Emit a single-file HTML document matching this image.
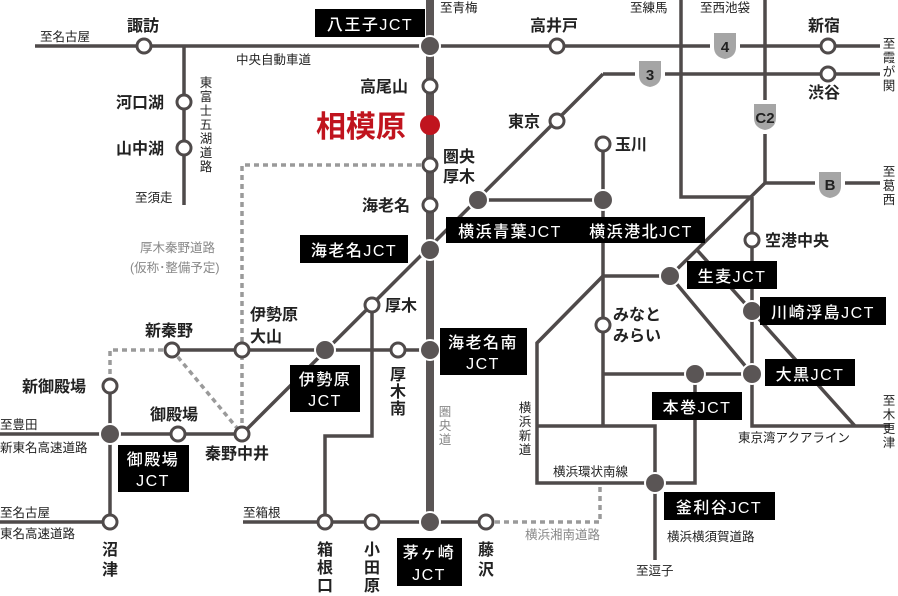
<!DOCTYPE html>
<html><head><meta charset="utf-8"><style>
html,body{margin:0;padding:0;background:#fff;}
svg{display:block;font-family:"Liberation Sans","Noto Sans CJK JP",sans-serif;}
.l{fill:none;stroke:#4f4a4a;stroke-width:3.5;}
.d{fill:none;stroke:#9a9a9a;stroke-width:3.5;stroke-dasharray:5 4;}
.o{fill:#fff;stroke:#4f4a4a;stroke-width:3;}
.j{fill:#5a5555;stroke:#fff;stroke-width:2;}
.t{font-size:16px;font-weight:bold;fill:#222;}
.s{font-size:12.5px;fill:#222;}
.g{font-size:12.5px;fill:#888;}
.w{font-size:16px;fill:#fff;font-weight:500;letter-spacing:1.5px;}
.sh{fill:#a5a5a5;}
.sht{font-size:15px;font-weight:bold;fill:#222;}
</style></head><body>
<svg width="898" height="596" viewBox="0 0 898 596">
<path class="d" d="M430,165 H242 V434"/>
<path class="d" d="M172,350 H110 V386"/>
<path class="d" d="M172,350 L242,434"/>
<path class="d" d="M486,522 H600 V483"/>
<path class="l" d="M35,46 H880"/>
<path class="l" d="M184,46 V205"/>
<path class="l" d="M603,74 H880"/>
<path class="l" d="M242,434 L603,74"/>
<path class="l" d="M478,200 H603 V426"/>
<path class="l" d="M603,144 V200"/>
<path class="l" d="M603,276 H670"/>
<path class="l" d="M603,276 L537,343 V483 H655"/>
<path class="l" d="M537,426 H655 V560"/>
<path class="l" d="M655,483 H695 V374"/>
<path class="l" d="M603,374 H752"/>
<path class="l" d="M681,0 V197 H752"/>
<path class="l" d="M765,0 V183 H880"/>
<path class="l" d="M765,183 L670,276 L752,374"/>
<path class="l" d="M697,250 L855,426"/>
<path class="l" d="M752,197 V426 H890"/>
<path class="l" d="M172,350 H430"/>
<path class="l" d="M0,434 H242"/>
<path class="l" d="M110,386 V522 H0"/>
<path class="l" d="M372,305 V436 H325 V522"/>
<path class="l" d="M243,522 H486"/>
<path d="M430,0 V522" stroke="#5a5555" stroke-width="8" fill="none"/>
<g><rect x="710" y="33" width="30" height="28" fill="#fff"/><path class="sh" d="M714,33 h22 v14 q0,10 -11,12 q-11,-2 -11,-12z"/><text class="sht" x="725" y="52" text-anchor="middle">4</text></g>
<g><rect x="635" y="61" width="30" height="28" fill="#fff"/><path class="sh" d="M639,61 h22 v14 q0,10 -11,12 q-11,-2 -11,-12z"/><text class="sht" x="650" y="80" text-anchor="middle">3</text></g>
<g><rect x="752" y="100" width="26" height="34" fill="#fff"/><path class="sh" d="M754,104 h22 v14 q0,10 -11,12 q-11,-2 -11,-12z"/><text class="sht" x="765" y="123" text-anchor="middle">C2</text></g>
<g><rect x="815" y="171" width="30" height="28" fill="#fff"/><path class="sh" d="M819,172 h22 v14 q0,10 -11,12 q-11,-2 -11,-12z"/><text class="sht" x="830" y="190" text-anchor="middle">B</text></g>
<g class="o">
<circle cx="144" cy="46" r="7"/><circle cx="184" cy="102" r="7"/><circle cx="184" cy="148" r="7"/>
<circle cx="430" cy="86" r="7"/><circle cx="430" cy="165" r="7"/><circle cx="430" cy="205" r="7"/>
<circle cx="557" cy="46" r="7"/><circle cx="828" cy="46" r="7"/><circle cx="828" cy="74" r="7"/>
<circle cx="557" cy="121" r="7"/><circle cx="603" cy="144" r="7"/><circle cx="752" cy="240" r="7"/>
<circle cx="603" cy="325" r="7"/><circle cx="372" cy="305" r="7"/><circle cx="398" cy="350" r="7"/>
<circle cx="242" cy="350" r="7"/><circle cx="172" cy="350" r="7"/><circle cx="110" cy="386" r="7"/>
<circle cx="178" cy="434" r="7"/><circle cx="242" cy="434" r="7"/><circle cx="110" cy="522" r="7"/>
<circle cx="325" cy="522" r="7"/><circle cx="372" cy="522" r="7"/><circle cx="486" cy="522" r="7"/>
</g>
<g class="j">
<circle cx="430" cy="46" r="10"/><circle cx="430" cy="250" r="10"/><circle cx="430" cy="350" r="10"/>
<circle cx="430" cy="522" r="10"/><circle cx="325" cy="350" r="10"/><circle cx="110" cy="434" r="10"/>
<circle cx="478" cy="200" r="10"/><circle cx="603" cy="200" r="10"/><circle cx="670" cy="276" r="10"/>
<circle cx="752" cy="311" r="10"/><circle cx="752" cy="374" r="10"/><circle cx="695" cy="374" r="10"/>
<circle cx="655" cy="483" r="10"/>
</g>
<circle cx="430" cy="125" r="10" fill="#c0141e"/>
<g fill="#000">
<rect x="315" y="9" width="110" height="28"/><rect x="300" y="235" width="108" height="28"/>
<rect x="446" y="217" width="259" height="26"/><rect x="687" y="261" width="90" height="28"/>
<rect x="760" y="297" width="126" height="28"/><rect x="765" y="359" width="90" height="27"/>
<rect x="652" y="392" width="90" height="28"/><rect x="664" y="492" width="111" height="28"/>
<rect x="440" y="328" width="87" height="47"/><rect x="290" y="365" width="70" height="47"/>
<rect x="118" y="445" width="71" height="47"/><rect x="397" y="538" width="65" height="48"/>
</g>
<g class="w" text-anchor="middle">
<text x="370" y="30">八王子JCT</text><text x="354" y="256">海老名JCT</text>
<text x="510" y="237">横浜青葉JCT</text><text x="641" y="237">横浜港北JCT</text>
<text x="732" y="282">生麦JCT</text><text x="823" y="318">川崎浮島JCT</text>
<text x="810" y="380">大黒JCT</text><text x="697" y="413">本巻JCT</text>
<text x="719" y="513">釜利谷JCT</text>
<text x="483" y="348">海老名南</text><text x="483" y="369">JCT</text>
<text x="325" y="385">伊勢原</text><text x="325" y="406">JCT</text>
<text x="153" y="465">御殿場</text><text x="153" y="486">JCT</text>
<text x="429" y="558">茅ヶ崎</text><text x="429" y="580">JCT</text>
</g>
<text x="316" y="137" style="font-size:30px;font-weight:bold;fill:#c0141e">相模原</text>
<g class="t">
<text x="127" y="31">諏訪</text><text x="116" y="108">河口湖</text><text x="116" y="154">山中湖</text>
<text x="360" y="92">高尾山</text><text x="443" y="162">圏央</text><text x="443" y="182">厚木</text>
<text x="362" y="211">海老名</text><text x="530" y="31">高井戸</text><text x="808" y="31">新宿</text>
<text x="808" y="98">渋谷</text><text x="508" y="127">東京</text><text x="615" y="150">玉川</text>
<text x="765" y="246">空港中央</text><text x="613" y="320">みなと</text><text x="613" y="341">みらい</text>
<text x="385" y="311">厚木</text><text x="250" y="320">伊勢原</text><text x="250" y="342">大山</text>
<text x="145" y="336">新秦野</text><text x="22" y="392">新御殿場</text><text x="150" y="420">御殿場</text>
<text x="205" y="459">秦野中井</text>
</g>
<g class="t" text-anchor="middle">
<text x="398" y="380">厚</text><text x="398" y="397">木</text><text x="398" y="414">南</text>
<text x="110" y="555">沼</text><text x="110" y="575">津</text>
<text x="325" y="555">箱</text><text x="325" y="573">根</text><text x="325" y="591">口</text>
<text x="372" y="555">小</text><text x="372" y="573">田</text><text x="372" y="591">原</text>
<text x="486" y="555">藤</text><text x="486" y="575">沢</text>
</g>
<g class="s">
<text x="40" y="41">至名古屋</text><text x="236" y="64">中央自動車道</text><text x="135" y="202">至須走</text>
<text x="440" y="12">至青梅</text><text x="630" y="12">至練馬</text><text x="700" y="12">至西池袋</text>
<text x="0" y="429">至豊田</text><text x="0" y="452">新東名高速道路</text>
<text x="0" y="517">至名古屋</text><text x="0" y="538">東名高速道路</text><text x="243" y="517">至箱根</text>
<text x="553" y="476">横浜環状南線</text><text x="667" y="541">横浜横須賀道路</text>
<text x="636" y="575">至逗子</text><text x="738" y="442">東京湾アクアライン</text>
</g>
<g class="s" text-anchor="middle">
<text x="206" y="87">東</text><text x="206" y="101">富</text><text x="206" y="115">士</text><text x="206" y="129">五</text><text x="206" y="143">湖</text><text x="206" y="157">道</text><text x="206" y="171">路</text>
<text x="525" y="412">横</text><text x="525" y="426">浜</text><text x="525" y="440">新</text><text x="525" y="454">道</text>
<text x="889" y="48">至</text><text x="889" y="62">霞</text><text x="889" y="76">が</text><text x="889" y="90">関</text>
<text x="889" y="176">至</text><text x="889" y="190">葛</text><text x="889" y="204">西</text>
<text x="889" y="405">至</text><text x="889" y="419">木</text><text x="889" y="433">更</text><text x="889" y="447">津</text>
</g>
<g class="g">
<text x="140" y="252">厚木秦野道路</text><text x="130" y="272">(仮称･整備予定)</text>
<text x="525" y="539">横浜湘南道路</text>
</g>
<g class="g" text-anchor="middle">
<text x="445" y="416">圏</text><text x="445" y="430">央</text><text x="445" y="444">道</text>
</g>
</svg>
</body></html>
